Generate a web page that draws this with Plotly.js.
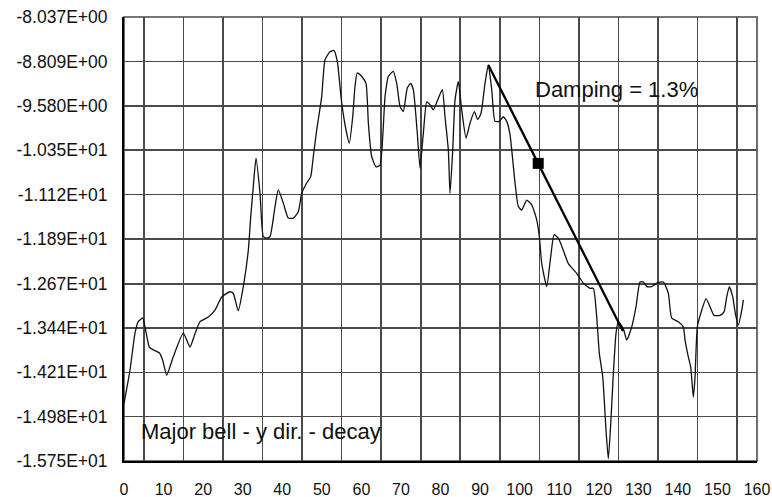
<!DOCTYPE html>
<html>
<head>
<meta charset="utf-8">
<script src="https://cdn.plot.ly/plotly-3.0.1.min.js"></script>
<style>
  html, body { margin: 0; padding: 0; background: #ffffff; }
  #chart { width: 772px; height: 497px; }
</style>
</head>
<body>
<div id="chart"></div>
<script>
// Measured response (time step index vs. log amplitude)
var timeX = [0, 1.52, 2.78, 3.61, 4.73, 5.31, 6.40, 7.41, 8.92, 9.78, 10.79, 12.46, 14.99, 16.68, 17.69, 19.21, 21.31, 23.00, 24.70, 26.79, 27.63, 28.89, 30.16, 31.42, 32.03, 32.68, 33.37, 34.38, 35.21, 36.07, 36.91, 38.17, 39.00, 40.27, 41.53, 42.80, 44.06, 44.92, 46.18, 47.19, 47.85, 48.71, 49.97, 50.81, 52.07, 53.08, 53.92, 55.03, 56.12, 56.95, 57.81, 58.39, 58.97, 60.09, 61.17, 61.76, 62.61, 63.70, 64.71, 65.98, 66.81, 68.07, 68.93, 69.77, 70.60, 71.61, 72.47, 73.13, 74.14, 74.82, 75.66, 76.52, 77.35, 78.19, 79.45, 80.46, 81.14, 81.98, 82.41, 83.09, 83.67, 84.50, 85.36, 86.45, 87.46, 88.55, 89.41, 90.24, 91.25, 92.09, 92.95, 93.78, 94.87, 95.88, 96.74, 97.57, 98.84, 99.67, 100.53, 101.79, 103.06, 104.32, 104.98, 105.59, 106.85, 107.86, 108.70, 109.78, 111.05, 112.31, 114.43, 116.10, 117.80, 118.63, 119.49, 120.15, 121.01, 121.84, 122.42, 123.03, 123.69, 124.37, 124.95, 126.21, 127.07, 128.34, 129.42, 130.43, 131.27, 132.13, 133.39, 134.66, 136.33, 137.59, 138.45, 140.12, 141.38, 141.81, 142.64, 143.25, 143.91, 144.34, 144.92, 146.03, 147.12, 148.13, 149.14, 150.66, 151.67, 152.35, 153.01, 153.87, 154.53, 155.29, 156.15, 156.55];
var responseY = [-14.75, -14.17, -13.53, -13.33, -13.27, -13.42, -13.77, -13.82, -13.87, -14.00, -14.26, -13.94, -13.53, -13.77, -13.59, -13.33, -13.25, -13.13, -12.90, -12.81, -12.84, -13.14, -12.72, -12.09, -11.51, -10.98, -10.49, -11.10, -11.85, -11.88, -11.85, -11.33, -11.04, -11.27, -11.53, -11.53, -11.42, -11.10, -10.92, -10.81, -10.46, -10.00, -9.42, -8.78, -8.64, -8.62, -8.81, -9.53, -10.00, -10.23, -9.77, -9.24, -9.01, -9.07, -9.19, -9.88, -10.46, -10.64, -10.61, -9.42, -9.07, -8.98, -9.19, -9.59, -9.68, -9.27, -9.19, -9.30, -10.06, -10.66, -10.06, -9.51, -9.56, -9.65, -9.45, -9.30, -9.77, -10.35, -11.10, -10.35, -9.48, -9.16, -9.65, -10.14, -9.88, -9.68, -9.82, -9.71, -9.19, -8.87, -9.30, -9.85, -9.85, -9.77, -9.85, -10.08, -10.92, -11.33, -11.39, -11.22, -11.30, -11.56, -11.85, -12.32, -12.72, -12.20, -11.82, -11.88, -12.09, -12.32, -12.49, -12.66, -12.75, -12.75, -13.25, -13.88, -14.29, -15.22, -15.71, -15.10, -14.23, -13.53, -13.33, -13.45, -13.65, -13.42, -13.07, -12.64, -12.64, -12.72, -12.72, -12.66, -12.64, -12.84, -13.27, -13.33, -13.42, -13.65, -13.94, -14.12, -14.64, -14.29, -13.42, -13.13, -12.93, -13.07, -13.22, -13.22, -13.16, -12.90, -12.72, -12.90, -13.19, -13.39, -13.13, -12.95];

// Decay envelope line (start peak -> end) and the marked point on it
var decayX = [92.09, 126.1];
var decayY = [-8.87, -13.49];
var markX = [104.7];
var markY = [-10.58];

// Axis ticks
var xTickVals = [0, 10, 20, 30, 40, 50, 60, 70, 80, 90, 100, 110, 120, 130, 140, 150, 160];
var xGridVals = [5, 15, 25, 35, 45, 55, 65, 75, 85, 95, 105, 115, 125, 135, 145, 155];
var yTickVals = [-15.75, -14.98, -14.21, -13.44, -12.67, -11.89, -11.12, -10.35, -9.580, -8.809, -8.037];
var yTickText = ["-1.575E+01", "-1.498E+01", "-1.421E+01", "-1.344E+01", "-1.267E+01", "-1.189E+01", "-1.112E+01", "-1.035E+01", "-9.580E+00", "-8.809E+00", "-8.037E+00"];

var dampingLabel = "Damping = 1.3%";
var seriesLabel = "Major bell - y dir. - decay";

var gridCol = "#4a4a4a";
var fontFam = "Liberation Sans, Arial, sans-serif";

var traces = [
  {
    x: timeX, y: responseY, type: "scatter", mode: "lines",
    line: {color: "#111111", width: 1.3, shape: "spline", smoothing: 0.5},
    hoverinfo: "skip", showlegend: false
  },
  {
    x: decayX, y: decayY, type: "scatter", mode: "lines",
    line: {color: "#000000", width: 2.3},
    hoverinfo: "skip", showlegend: false
  },
  {
    x: markX, y: markY, type: "scatter", mode: "markers",
    marker: {symbol: "square", size: 11, color: "#000000"},
    hoverinfo: "skip", showlegend: false
  }
];

var layout = {
  width: 772, height: 497,
  margin: {l: 124, r: 15, t: 17, b: 36, pad: 0},
  paper_bgcolor: "#ffffff", plot_bgcolor: "#ffffff",
  font: {family: fontFam, color: "#111111"},
  showlegend: false,
  xaxis: {
    range: [0, 160], tickmode: "array", tickvals: xTickVals,
    ticktext: xTickVals.map(String),
    showgrid: false, zeroline: false,
    showline: true, linecolor: "#000000", linewidth: 2,
    ticks: "outside", ticklen: 13, tickcolor: "rgba(0,0,0,0)",
    tickfont: {size: 16, family: fontFam, color: "#111111"}
  },
  xaxis2: {
    range: [0, 160], overlaying: "x", side: "bottom",
    tickmode: "array", tickvals: xGridVals,
    showticklabels: false, ticks: "",
    showgrid: true, gridcolor: gridCol, gridwidth: 1.6,
    zeroline: false, showline: false
  },
  yaxis: {
    range: [-15.75, -8.037], tickmode: "array", tickvals: yTickVals, ticktext: yTickText,
    showgrid: true, gridcolor: gridCol, gridwidth: 1.6,
    zeroline: false,
    showline: true, linecolor: "#000000", linewidth: 2,
    ticks: "outside", ticklen: 11, tickcolor: "rgba(0,0,0,0)",
    tickfont: {size: 17.5, family: fontFam, color: "#111111"}
  },
  shapes: [
    {type: "rect", xref: "paper", yref: "paper", x0: 0, x1: 1, y0: 0, y1: 1,
     line: {color: gridCol, width: 1.6}, layer: "below"}
  ],
  annotations: [
    {x: 103.3, y: -9.30, xref: "x", yref: "y", text: dampingLabel, showarrow: false,
     xanchor: "left", yanchor: "middle",
     font: {size: 22, family: fontFam, color: "#111111"}},
    {x: 3.8, y: -15.24, xref: "x", yref: "y", text: seriesLabel, showarrow: false,
     xanchor: "left", yanchor: "middle",
     font: {size: 22, family: fontFam, color: "#111111"}}
  ]
};

// the empty trace binds xaxis2 so its grid is drawn
traces.push({x: [], y: [], xaxis: "x2", yaxis: "y", type: "scatter", mode: "lines", showlegend: false, hoverinfo: "skip"});

Plotly.newPlot("chart", traces, layout, {staticPlot: true, displayModeBar: false});
</script>
</body>
</html>
